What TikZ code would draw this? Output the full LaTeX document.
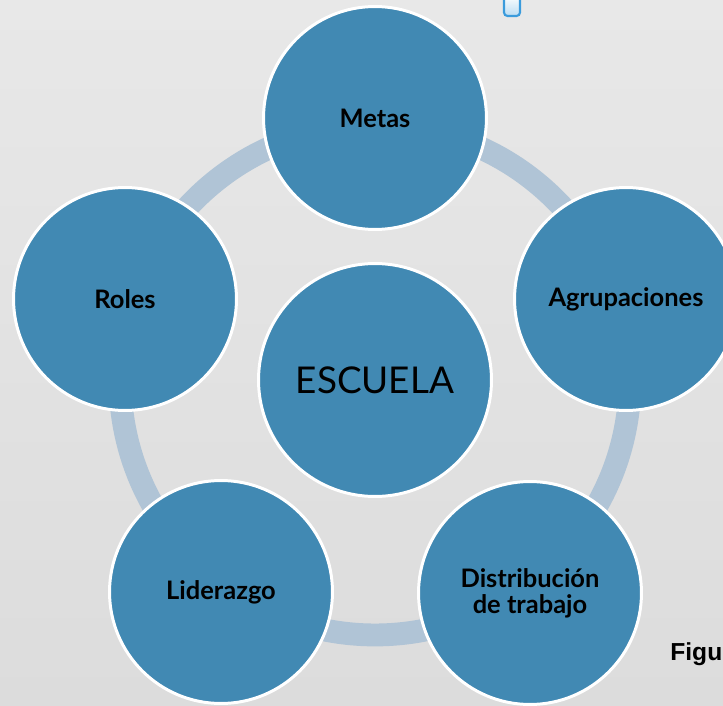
\documentclass[tikz,border=0pt]{standalone}
\usepackage{fontspec}
\setmainfont{Lato}
\newfontfamily\figfont{Liberation Sans}
\usepackage{xcolor}
\usepackage{tikz}
\usetikzlibrary{shapes,positioning,calc}

\definecolor{bgtop}{RGB}{232,232,232}
\definecolor{bgbottom}{RGB}{220,220,220}
\definecolor{ballblue}{RGB}{65,137,179}
\definecolor{ringblue}{RGB}{176,196,214}
\definecolor{iconblue}{RGB}{58,155,220}

\tikzset{
    ball/.style={circle, fill=ballblue, draw=white, line width=1.7pt,
        minimum size=4.46cm, inner sep=0pt, align=center,
        font=\fontsize{14.5}{14.8}\selectfont\bfseries},
    hub/.style={ball, minimum size=4.66cm,
        font=\fontsize{21}{24}\selectfont\mdseries},
    ring/.style={draw=ringblue, line width=13pt}
}

\begin{document}
\begin{tikzpicture}[x=0.02cm, y=-0.02cm]
    % Page and background
    \useasboundingbox (0,0) rectangle (723,706);
    \clip (0,0) rectangle (723,706);
    \shade[top color=bgtop, bottom color=bgbottom] (0,0) rectangle (723,706);

    % Small icon cut off at the top
    \shade[top color=white, bottom color=iconblue!35, draw=iconblue,
        line width=1.2pt, rounded corners=2pt] (504,-5) rectangle (520,16);

    % Ring behind the circles
    \coordinate (mid) at (375,380);
    \draw[ring] (mid) circle [radius=5.1cm];

    % Outer circles
    \node[ball] (metas) at (375,118) {Metas};
    \node[ball] (agrup) at (626,299) {Agrupaciones};
    \node[ball] (distrib) at (530,593) {Distribución\\de trabajo};
    \node[ball] (lider) at (221,592) {Liderazgo};
    \node[ball] (roles) at (125,299) {Roles};

    % Centre circle
    \node[hub] (escuela) at (mid) {ESCUELA};

    % Caption cut off at the right
    \node[anchor=base west, inner sep=0pt, font=\figfont\fontsize{14}{16}\selectfont\bfseries]
        (fig) at (670,660) {Figu};
\end{tikzpicture}
\end{document}
